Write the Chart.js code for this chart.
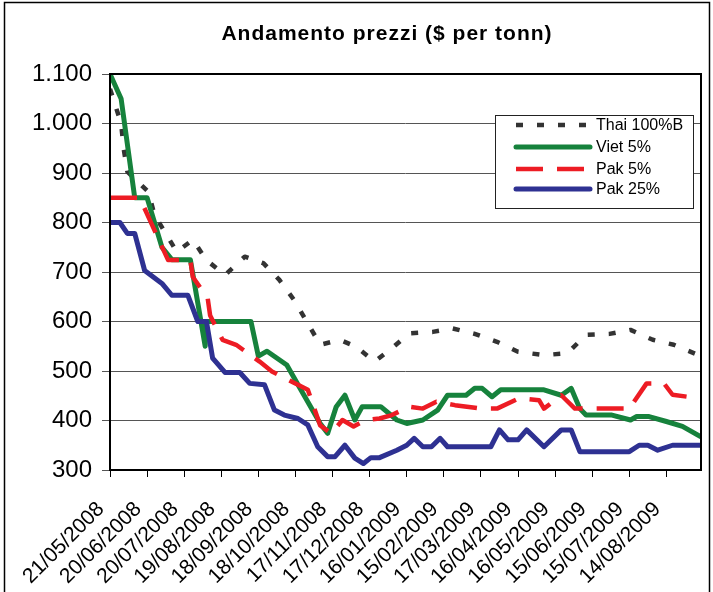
<!DOCTYPE html>
<html>
<head>
<meta charset="utf-8">
<script src="https://cdn.jsdelivr.net/npm/chart.js@4"></script>
<style>
  html, body { margin: 0; padding: 0; background: #fff; }
  canvas { display: block; }
</style>
</head>
<body>
<canvas id="priceChart" width="713" height="592"></canvas>
<script>
// days counted from 21/05/2008, prices in $ per tonn
const tickLabels = ['21/05/2008', '20/06/2008', '20/07/2008', '19/08/2008', '18/09/2008', '18/10/2008',
  '17/11/2008', '17/12/2008', '16/01/2009', '15/02/2009', '17/03/2009', '16/04/2009',
  '16/05/2009', '15/06/2009', '15/07/2009', '14/08/2009'];

const thaiDays = [0, 9, 11, 14, 31, 36, 54, 67, 78, 93, 109, 124, 137, 149, 160, 170, 186, 199, 214, 229, 242, 261, 277, 295, 313, 330, 351, 370, 385, 404, 421, 439, 456, 478];
const thaiPrices = [1070, 1000, 950, 903, 862, 815, 741, 765, 724, 694, 731, 718, 684, 643, 596, 553, 563, 549, 519, 548, 576, 579, 586, 575, 559, 539, 532, 536, 573, 575, 583, 563, 553, 530];

const vietDays = [0, 9, 20, 30, 42, 50, 65, 77, 78, 114, 120, 127, 143, 156, 170, 176, 183, 190, 198, 204, 219, 232, 240, 253, 265, 273, 288, 295, 301, 309, 316, 351, 365, 373, 380, 385, 406, 421, 426, 436, 450, 463, 478];
const vietPrices = [1100, 1050, 850, 850, 750, 725, 725, 550, 600, 600, 530, 540, 512, 455, 394, 374, 428, 451, 401, 428, 428, 401, 394, 401, 421, 451, 451, 465, 465, 448, 462, 462, 451, 465, 424, 411, 411, 401, 408, 408, 398, 388, 367];

const pak5Days = [0, 24, 47, 65, 67, 79, 81, 91, 102, 121, 131, 152, 160, 170, 179, 188, 197, 207, 218, 228, 242, 253, 264, 279, 300, 313, 331, 347, 351, 365, 376, 420, 434, 448, 455, 467, 478];
const pak5Prices = [850, 850, 724, 724, 690, 647, 612, 563, 553, 519, 499, 472, 462, 390, 374, 401, 388, 401, 404, 411, 428, 424, 438, 431, 424, 424, 445, 441, 424, 451, 424, 424, 475, 475, 452, 448, 448];

const pak25Days = [0, 8, 14, 20, 28, 42, 50, 63, 71, 78, 83, 93, 105, 113, 125, 133, 141, 152, 160, 168, 176, 182, 190, 198, 205, 211, 218, 232, 240, 246, 253, 260, 267, 273, 308, 315, 322, 330, 337, 351, 365, 373, 380, 420, 428, 435, 443, 455, 478];
const pak25Prices = [800, 800, 778, 778, 703, 677, 653, 653, 600, 600, 526, 497, 497, 475, 472, 421, 411, 404, 391, 347, 327, 327, 350, 324, 313, 325, 325, 340, 350, 364, 347, 347, 364, 347, 347, 381, 361, 361, 381, 347, 381, 381, 337, 337, 350, 350, 340, 350, 350];

function toPoints(days, prices) {
  return days.map((d, i) => ({ x: d, y: prices[i] }));
}

function formatThousands(v) {
  if (v >= 1000) return Math.floor(v / 1000) + '.' + String(v % 1000).padStart(3, '0');
  return String(v);
}

const FONT = '"Liberation Sans", Arial, sans-serif';

// title, plot frame, outer frame and legend box
const decorations = {
  id: 'decorations',
  afterDraw(chart) {
    const ctx = chart.ctx;
    const a = chart.chartArea;
    ctx.save();
    ctx.strokeStyle = '#000';
    ctx.lineWidth = 2;
    ctx.strokeRect(a.left, a.top, a.right - a.left, a.bottom - a.top);
    ctx.lineWidth = 1.5;
    ctx.strokeRect(4.5, 2.5, 705, 600);

    ctx.fillStyle = '#000';
    ctx.font = 'bold 21px ' + FONT;
    ctx.textAlign = 'center';
    ctx.textBaseline = 'alphabetic';
    if ('letterSpacing' in ctx) ctx.letterSpacing = '1px';
    ctx.fillText('Andamento prezzi ($ per tonn)', 387, 40);
    if ('letterSpacing' in ctx) ctx.letterSpacing = '0px';

    // legend
    const lx = 495, ly = 115, lw = 198, lh = 93;
    ctx.fillStyle = '#fff';
    ctx.fillRect(lx, ly, lw, lh);
    ctx.strokeStyle = '#222';
    ctx.lineWidth = 1;
    ctx.strokeRect(lx + 0.5, ly + 0.5, lw, lh);
    const rows = [125, 147, 169, 189];
    chart.data.datasets.forEach((ds, i) => {
      const y = rows[i];
      ctx.strokeStyle = ds.borderColor;
      ctx.lineWidth = ds.borderWidth;
      ctx.lineCap = ds.borderDash.length ? 'butt' : 'round';
      ctx.setLineDash(ds.borderDash);
      ctx.beginPath();
      ctx.moveTo(516, y);
      ctx.lineTo(590, y);
      ctx.stroke();
      ctx.setLineDash([]);
      ctx.fillStyle = '#000';
      ctx.font = '16px ' + FONT;
      ctx.textAlign = 'left';
      ctx.textBaseline = 'middle';
      ctx.fillText(ds.label, 596, y + 1);
    });
    ctx.restore();
  }
};

const ctx = document.getElementById('priceChart').getContext('2d');
const priceChart = new Chart(ctx, {
  type: 'line',
  data: {
    datasets: [{
      label: 'Thai 100%B',
      data: toPoints(thaiDays, thaiPrices),
      borderColor: '#333333',
      borderWidth: 4.5,
      borderDash: [7, 14],
      order: 4
    }, {
      label: 'Viet 5%',
      data: toPoints(vietDays, vietPrices),
      borderColor: '#16823c',
      borderWidth: 5,
      borderDash: [],
      order: 3
    }, {
      label: 'Pak 5%',
      data: toPoints(pak5Days, pak5Prices),
      borderColor: '#ed1c24',
      borderWidth: 4.5,
      borderDash: [27, 14],
      order: 2
    }, {
      label: 'Pak 25%',
      data: toPoints(pak25Days, pak25Prices),
      borderColor: '#2e3192',
      borderWidth: 5,
      borderDash: [],
      order: 1
    }]
  },
  options: {
    responsive: false,
    animation: false,
    devicePixelRatio: 1,
    layout: { padding: { top: 74, right: 12, left: 0, bottom: 0 } },
    elements: {
      point: { radius: 0 },
      line: { tension: 0, borderJoinStyle: 'round' }
    },
    plugins: {
      legend: { display: false },
      title: { display: false },
      tooltip: { enabled: false }
    },
    scales: {
      x: {
        type: 'linear',
        min: 0,
        max: 478,
        afterBuildTicks(scale) {
          scale.ticks = tickLabels.map((l, i) => ({ value: i * 30 }));
        },
        afterFit(scale) { scale.height = 122; },
        ticks: {
          autoSkip: false,
          maxRotation: 45,
          minRotation: 45,
          padding: 20,
          labelOffset: -9,
          color: '#000',
          font: { family: FONT, size: 21 },
          callback: (v, i) => tickLabels[i]
        },
        grid: { drawOnChartArea: false, drawTicks: true, tickLength: 7, color: '#000', lineWidth: 1 },
        border: { display: false }
      },
      y: {
        min: 300,
        max: 1100,
        afterFit(scale) { scale.width = 110; },
        ticks: {
          stepSize: 100,
          padding: 10,
          color: '#000',
          font: { family: FONT, size: 24 },
          callback: v => formatThousands(v)
        },
        grid: { color: '#555', lineWidth: 1, tickLength: 8 },
        border: { display: false }
      }
    }
  },
  plugins: [decorations]
});
</script>
</body>
</html>
